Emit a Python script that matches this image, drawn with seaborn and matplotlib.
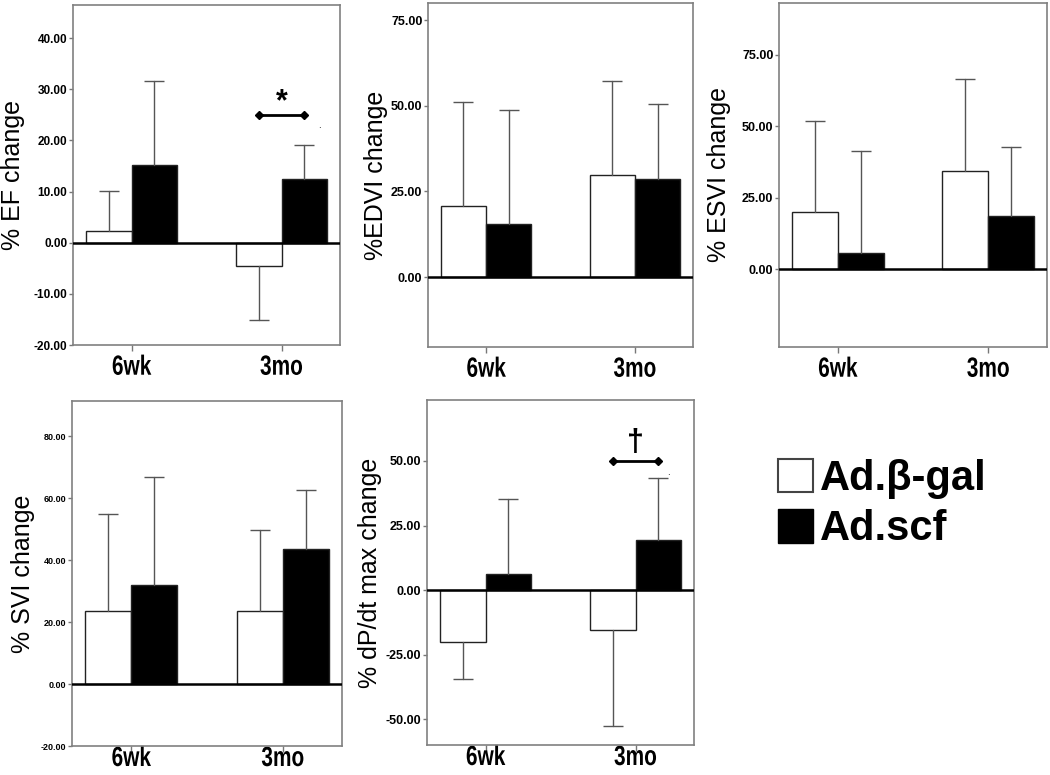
import numpy as np
import pandas as pd
import matplotlib
matplotlib.use("Agg")
import matplotlib.pyplot as plt
import seaborn as sns
from matplotlib.patches import Patch
from matplotlib.patheffects import AbstractPathEffect
from matplotlib.transforms import Affine2D

sns.set_style("ticks")
plt.rcParams['font.family'] = ['Liberation Sans', 'DejaVu Sans']
plt.rcParams['text.color'] = 'black'
plt.rcParams['axes.labelcolor'] = 'black'
plt.rcParams['xtick.color'] = 'black'
plt.rcParams['ytick.color'] = 'black'


class Narrow(AbstractPathEffect):
    # squeeze text horizontally around its centre (condensed look)
    def __init__(self, sx=0.75):
        super().__init__()
        self.sx = sx

    def draw_path(self, renderer, gc, tpath, affine, rgbFace=None):
        ext = tpath.get_extents()
        cx = (ext.x0 + ext.x1) / 2
        t = Affine2D().translate(-cx, 0).scale(self.sx, 1).translate(cx, 0) + affine
        renderer.draw_path(gc, tpath, t, rgbFace)


times = ["6wk", "3mo"]
groups = ["Ad.β-gal", "Ad.scf"]

# mean % change and end of error bar, [6wk, 3mo]
ef_gal = [2.2, -4.5]
ef_scf = [15.3, 12.4]
ef_gal_err = [10.2, -15.2]
ef_scf_err = [31.7, 19.1]

edvi_gal = [20.8, 29.8]
edvi_scf = [15.6, 28.5]
edvi_gal_err = [51.2, 57.2]
edvi_scf_err = [48.8, 50.5]

esvi_gal = [20.0, 34.5]
esvi_scf = [5.8, 18.5]
esvi_gal_err = [51.8, 66.6]
esvi_scf_err = [41.3, 42.7]

svi_gal = [23.5, 23.4]
svi_scf = [31.8, 43.6]
svi_gal_err = [54.7, 49.8]
svi_scf_err = [66.9, 62.7]

dpdt_gal = [-20.2, -15.5]
dpdt_scf = [6.2, 19.5]
dpdt_gal_err = [-34.6, -52.5]
dpdt_scf_err = [35.4, 43.5]

ylabels = ["% EF change", "%EDVI change", "% ESVI change", "% SVI change", "% dP/dt max change"]
yticks = [[-20, -10, 0, 10, 20, 30, 40], [0, 25, 50, 75], [0, 25, 50, 75],
          [-20, 0, 20, 40, 60, 80], [-50, -25, 0, 25, 50]]
ylims = [(-20, 46.5), (-20.4, 80), (-27.3, 93.2), (-20, 91.3), (-60, 73.6)]
tick_sizes = [8.5, 9, 9, 6.5, 9]

# significance markers on 3mo: (bracket y, symbol y, symbol)
sig = {0: (25, 27.5, "*"), 4: (50, 57, "†")}
stray_dots = {0: (0.25, 23), 4: (0.22, 45.7)}

W, H = 1050, 775
# axes boxes in pixels: left, top, right, bottom
boxes = [(73, 5, 340, 345), (428, 3, 693, 347), (779, 3, 1047, 347),
         (72, 401, 342, 746), (427, 400, 694, 745)]
label_x = [-0.178, -0.152, -0.178, -0.137, -0.17]
xpad = [3, 3, 3, -4, -4]

panels = [(ef_gal, ef_scf, ef_gal_err, ef_scf_err),
          (edvi_gal, edvi_scf, edvi_gal_err, edvi_scf_err),
          (esvi_gal, esvi_scf, esvi_gal_err, esvi_scf_err),
          (svi_gal, svi_scf, svi_gal_err, svi_scf_err),
          (dpdt_gal, dpdt_scf, dpdt_gal_err, dpdt_scf_err)]

fig = plt.figure(figsize=(W / 100, H / 100), dpi=100)

for i, (gal, scf, gal_err, scf_err) in enumerate(panels):
    l, t, r, b = boxes[i]
    ax = fig.add_axes([l / W, 1 - b / H, (r - l) / W, (b - t) / H])
    df = pd.DataFrame({"time": times * 2,
                       "group": [groups[0]] * 2 + [groups[1]] * 2,
                       "value": gal + scf})
    sns.barplot(data=df, x="time", y="value", hue="group", order=times,
                hue_order=groups, palette=["white", "black"], edgecolor="#222222",
                linewidth=1, width=0.61, errorbar=None, legend=False, ax=ax)
    ax.axhline(0, color="black", lw=1.8, zorder=4)

    for cont, ends in zip(ax.containers, [gal_err, scf_err]):
        for bar, end in zip(cont, ends):
            xc = bar.get_x() + bar.get_width() / 2
            top = bar.get_y() + bar.get_height()
            ax.plot([xc, xc], [top, end], color="#555555", lw=1, zorder=3)
            ax.plot([xc], [end], marker="_", ms=15, mew=1, color="#555555", zorder=3)

    if i in sig:
        by, sy, sym = sig[i]
        b0 = ax.containers[0][1]
        b1 = ax.containers[1][1]
        x0 = b0.get_x() + b0.get_width() / 2
        x1 = b1.get_x() + b1.get_width() / 2
        ax.plot([x0, x1], [by, by], color="black", lw=2, marker="D", ms=4, zorder=5)
        ax.text((x0 + x1) / 2, sy, sym, ha="center", va="center",
                fontsize=22, fontweight="bold")
        dx, dy = stray_dots[i]
        ax.text(1 + dx, dy, ".", ha="center", va="center", fontsize=7)

    ax.set_xlim(-0.39, 1.39)
    ax.set_ylim(*ylims[i])
    ax.set_yticks(yticks[i])
    ax.set_yticklabels([f"{v:.2f}" for v in yticks[i]], fontsize=tick_sizes[i],
                       fontweight="bold")
    ax.set_xticks([0, 1])
    ax.set_xticklabels(times, fontsize=20, fontweight="bold")
    for lbl in ax.get_xticklabels():
        lbl.set_path_effects([Narrow(0.75)])
    ax.tick_params(axis="y", length=3, width=1, color="#777777", pad=1)
    ax.tick_params(axis="x", length=4, width=1, color="#777777", pad=xpad[i])
    for s in ax.spines.values():
        s.set_color("#808080")
        s.set_linewidth(1.2)
    ax.set_xlabel("")
    ax.set_ylabel(ylabels[i], fontsize=18)
    ax.yaxis.set_label_coords(label_x[i], 0.5)

handles = [Patch(facecolor="white", edgecolor="#444444", lw=1.5),
           Patch(facecolor="black", edgecolor="black")]
fig.legend(handles=handles, labels=groups, loc="upper left",
           bbox_to_anchor=(778 / W, 1 - 459 / H), frameon=False,
           prop={"weight": "bold", "size": 30}, handlelength=0.85,
           handleheight=0.85, handletextpad=0.15, labelspacing=0.25,
           borderpad=0, borderaxespad=0)

fig.savefig("out.png", dpi=100)
